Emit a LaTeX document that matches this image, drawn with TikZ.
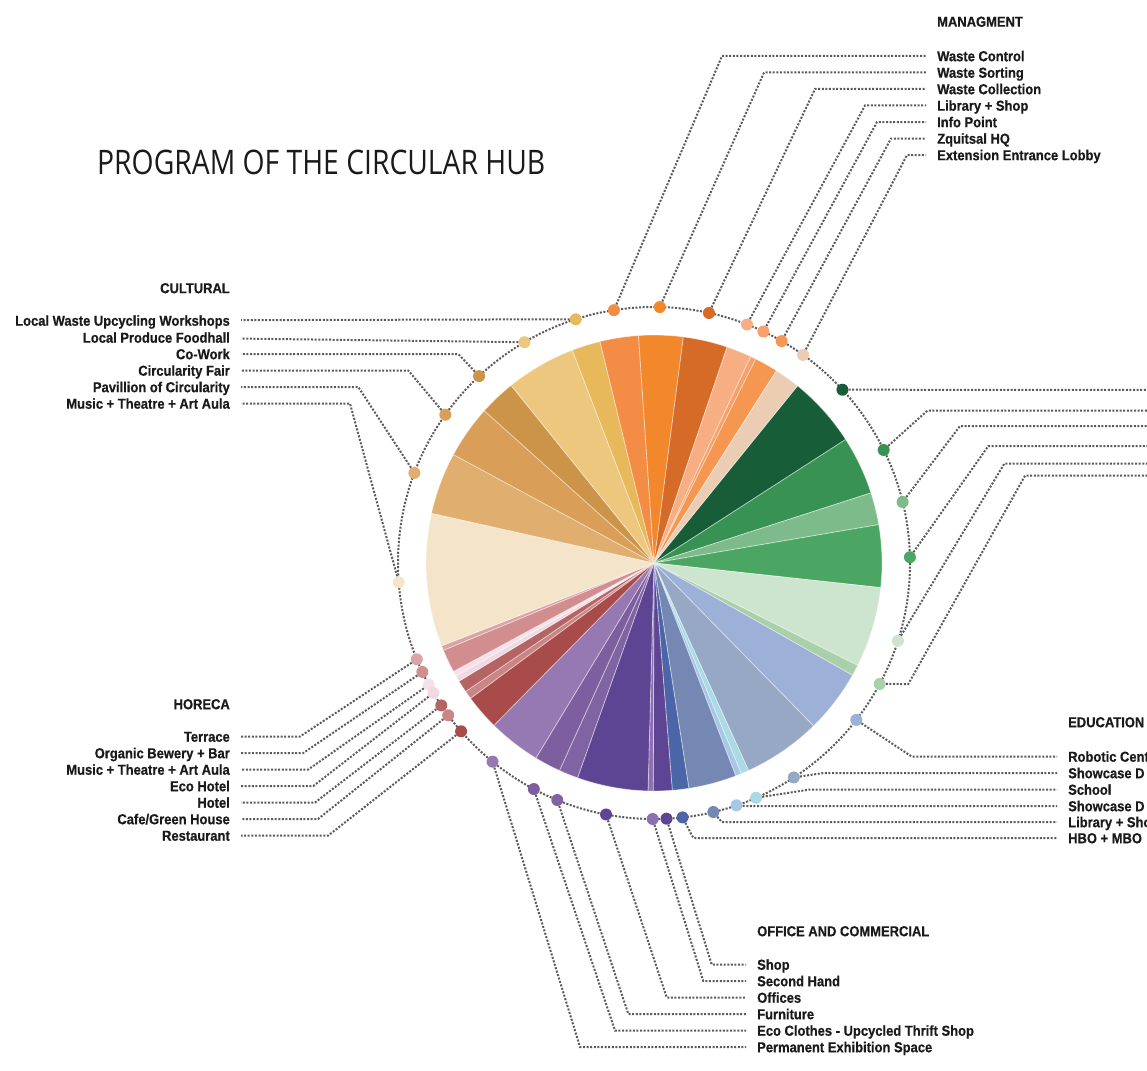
\documentclass[tikz,border=0pt]{standalone}
\usepackage{fontspec}
\usepackage{graphicx}
\setmainfont{Liberation Sans}
\newfontfamily\lblfont{Liberation Sans}[FakeStretch=0.9,FakeBold=0.6]
\newfontfamily\ttlfont{Open Sans}
\usetikzlibrary{calc}

\definecolor{ink}{HTML}{1A1A1A}
\definecolor{dotgray}{HTML}{5A5A5A}
% cultural
\definecolor{cream}{HTML}{F4E5CA}
\definecolor{lttan}{HTML}{E0AE6E}
\definecolor{tan}{HTML}{D99E57}
\definecolor{dktan}{HTML}{CC9449}
\definecolor{ltyellow}{HTML}{EEC77E}
\definecolor{yellow}{HTML}{E8B95A}
% managment
\definecolor{orangeA}{HTML}{F38D45}
\definecolor{orangeB}{HTML}{F3872C}
\definecolor{dkorange}{HTML}{D66A27}
\definecolor{salmon}{HTML}{F8AE83}
\definecolor{salmonB}{HTML}{F7A06C}
\definecolor{orangeC}{HTML}{F59651}
\definecolor{beige}{HTML}{EBCDB4}
% green
\definecolor{dkgreen}{HTML}{175E38}
\definecolor{green}{HTML}{389253}
\definecolor{ltgreen}{HTML}{7DBB8A}
\definecolor{mdgreen}{HTML}{4BA664}
\definecolor{vlgreen}{HTML}{CDE4CE}
\definecolor{thgreen}{HTML}{A9D0A9}
% education
\definecolor{blue}{HTML}{9DB0D8}
\definecolor{greyblue}{HTML}{97A8C4}
\definecolor{ltcyan}{HTML}{A9DAE6}
\definecolor{ltblue}{HTML}{A7C8E5}
\definecolor{slate}{HTML}{7588B4}
\definecolor{dkblue}{HTML}{4A66A6}
% office
\definecolor{purpleA}{HTML}{5E4594}
\definecolor{purpleT}{HTML}{8B6FB0}
\definecolor{purpleB}{HTML}{8063A2}
\definecolor{purpleC}{HTML}{7D5E9F}
\definecolor{lavender}{HTML}{9679B2}
% horeca
\definecolor{red}{HTML}{A84B4A}
\definecolor{cafe}{HTML}{CC8585}
\definecolor{hotel}{HTML}{B56464}
\definecolor{ecopink}{HTML}{F0D9E4}
\definecolor{musicpink}{HTML}{F4E1EA}
\definecolor{pink}{HTML}{D28E8E}
\definecolor{terrace}{HTML}{DCA3A3}

\newcommand{\pieslice}[3]{\filldraw[sl,fill=#3] (0,0) -- (#1:228) arc[start angle=#1,end angle=#2,radius=228] -- cycle;}

\begin{document}
\begin{tikzpicture}[x=1pt,y=-1pt,
    lead/.style={draw=dotgray,line width=2pt,dash pattern=on 2pt off 1.6pt},
    leadt/.style={lead,shorten >=11pt},
    dot/.style={circle,inner sep=0pt,minimum size=12pt},
    lbl/.style={font=\lblfont\bfseries\fontsize{14.4}{16}\selectfont,text=ink,
      inner sep=0pt,text height=10.4pt,text depth=0pt},
    sl/.style={draw=white,draw opacity=.45,line width=.8pt}]
  \useasboundingbox (0,0) rectangle (1147,1070);

  \node[anchor=base west,inner sep=0pt,text=ink] (title) at (97,174.5)
    {\resizebox{448pt}{24.5pt}{\ttlfont PROGRAM OF THE CIRCULAR HUB}};

  \draw[lead] (654,563) circle[radius=256];

  \begin{scope}[shift={(654,563)}]
    % green
    \pieslice{-51}{-32.8}{dkgreen}
    \pieslice{-32.8}{-17.9}{green}
    \pieslice{-17.9}{-9.7}{ltgreen}
    \pieslice{-9.7}{6.2}{mdgreen}
    \pieslice{6.2}{26.7}{vlgreen}
    \pieslice{26.7}{29.5}{thgreen}
    % education
    \pieslice{29.5}{45.6}{blue}
    \pieslice{45.6}{65.5}{greyblue}
    \pieslice{65.5}{67.5}{ltcyan}
    \pieslice{67.5}{69}{ltblue}
    \pieslice{69}{81.2}{slate}
    \pieslice{81.2}{85.4}{dkblue}
    % office and commercial
    \pieslice{85.4}{90.2}{purpleA}
    \pieslice{90.2}{91.5}{purpleT}
    \pieslice{91.5}{109.6}{purpleA}
    \pieslice{109.6}{114.5}{purpleB}
    \pieslice{114.5}{121.2}{purpleC}
    \pieslice{121.2}{134.6}{lavender}
    % horeca
    \pieslice{134.6}{143.6}{red}
    \pieslice{143.6}{145.7}{cafe}
    \pieslice{145.7}{148.8}{hotel}
    \pieslice{148.8}{150.3}{ecopink}
    \pieslice{150.3}{151.6}{musicpink}
    \pieslice{151.6}{157.5}{pink}
    \pieslice{157.5}{158.7}{terrace}
    % cultural
    \pieslice{158.7}{192.6}{cream}
    \pieslice{192.6}{208.4}{lttan}
    \pieslice{208.4}{221.9}{tan}
    \pieslice{221.9}{231.2}{dktan}
    \pieslice{231.2}{249}{ltyellow}
    \pieslice{249}{256.3}{yellow}
    % managment
    \pieslice{256.3}{266.1}{orangeA}
    \pieslice{266.1}{277.4}{orangeB}
    \pieslice{277.4}{288.7}{dkorange}
    \pieslice{288.7}{295.1}{salmon}
    \pieslice{295.1}{296.5}{salmonB}
    \pieslice{296.5}{302.5}{orangeC}
    \pieslice{302.5}{309}{beige}

    \node[dot,fill=orangeA] (m1) at (-99:256) {};
    \node[dot,fill=orangeB] (m2) at (-88.7:256) {};
    \node[dot,fill=dkorange] (m3) at (-77.6:256) {};
    \node[dot,fill=salmon] (m4) at (-68.7:256) {};
    \node[dot,fill=salmonB] (m5) at (-64.7:256) {};
    \node[dot,fill=orangeC] (m6) at (-60.1:256) {};
    \node[dot,fill=beige] (m7) at (-54.4:256) {};

    \node[dot,fill=dkgreen] (g1) at (-42.6:256) {};
    \node[dot,fill=green] (g2) at (-26.2:256) {};
    \node[dot,fill=ltgreen] (g3) at (-13.8:256) {};
    \node[dot,fill=mdgreen] (g4) at (-1.3:256) {};
    \node[dot,fill=vlgreen] (g5) at (17.7:256) {};
    \node[dot,fill=thgreen] (g6) at (28.2:256) {};

    \node[dot,fill=blue] (e1) at (37.8:256) {};
    \node[dot,fill=greyblue] (e2) at (56.9:256) {};
    \node[dot,fill=ltcyan] (e3) at (66.5:256) {};
    \node[dot,fill=ltblue] (e4) at (71.2:256) {};
    \node[dot,fill=slate] (e5) at (76.6:256) {};
    \node[dot,fill=dkblue] (e6) at (83.6:256) {};

    \node[dot,fill=purpleA] (o1) at (87.2:256) {};
    \node[dot,fill=purpleT] (o2) at (90.3:256) {};
    \node[dot,fill=purpleA] (o3) at (100.8:256) {};
    \node[dot,fill=purpleB] (o4) at (112.2:256) {};
    \node[dot,fill=purpleC] (o5) at (118:256) {};
    \node[dot,fill=lavender] (o6) at (129.1:256) {};

    \node[dot,fill=terrace] (h1) at (157.9:256) {};
    \node[dot,fill=pink] (h2) at (154.8:256) {};
    \node[dot,fill=musicpink] (h3) at (151.6:256) {};
    \node[dot,fill=ecopink] (h4) at (149.5:256) {};
    \node[dot,fill=hotel] (h5) at (146.2:256) {};
    \node[dot,fill=cafe] (h6) at (143.5:256) {};
    \node[dot,fill=red] (h7) at (138.9:256) {};

    \node[dot,fill=yellow] (c1) at (-107.8:256) {};
    \node[dot,fill=ltyellow] (c2) at (-120.4:256) {};
    \node[dot,fill=dktan] (c3) at (-133.1:256) {};
    \node[dot,fill=tan] (c4) at (-144.6:256) {};
    \node[dot,fill=lttan] (c5) at (-159.4:256) {};
    \node[dot,fill=cream] (c6) at (175.7:256) {};
  \end{scope}

  % managment
  \node[lbl,anchor=west] (hm) at (937,21.5) {MANAGMENT};
  \node[lbl,anchor=west] (m1t) at (937,56) {Waste Control};
  \node[lbl,anchor=west] (m2t) at (937,72.5) {Waste Sorting};
  \node[lbl,anchor=west] (m3t) at (937,89) {Waste Collection};
  \node[lbl,anchor=west] (m4t) at (937,105.5) {Library + Shop};
  \node[lbl,anchor=west] (m5t) at (937,122) {Info Point};
  \node[lbl,anchor=west] (m6t) at (937,138.5) {Zquitsal HQ};
  \node[lbl,anchor=west] (m7t) at (937,155) {Extension Entrance Lobby};
  \draw[leadt] (m1) -- (722,56) -- (m1t);
  \draw[leadt] (m2) -- (764,72.5) -- (m2t);
  \draw[leadt] (m3) -- (815,89) -- (m3t);
  \draw[leadt] (m4) -- (865,105.5) -- (m4t);
  \draw[leadt] (m5) -- (877,122) -- (m5t);
  \draw[leadt] (m6) -- (891,138.5) -- (m6t);
  \draw[leadt] (m7) -- (907,155) -- (m7t);

  % green, labels off the page
  \coordinate (g1e) at (1147,389.8);
  \coordinate (g2e) at (1147,410.7);
  \coordinate (g3e) at (1147,426);
  \coordinate (g4e) at (1147,446);
  \coordinate (g5e) at (1147,463.7);
  \coordinate (g6e) at (1147,475.7);
  \draw[lead] (g1) -- (g1e);
  \draw[lead] (g2) -- (927.3,410.7) -- (g2e);
  \draw[lead] (g3) -- (960,426) -- (g3e);
  \draw[lead] (g4) -- (988.3,446) -- (g4e);
  \draw[lead] (g5) -- (1004.3,463.7) -- (g5e);
  \draw[lead] (g6) -- (908.3,684) -- (1025,475.7) -- (g6e);

  % education
  \node[lbl,anchor=west] (he) at (1068,722) {EDUCATION};
  \node[lbl,anchor=west] (e1t) at (1068,756.5) {Robotic Cent};
  \node[lbl,anchor=west] (e2t) at (1068,773) {Showcase D};
  \node[lbl,anchor=west] (e3t) at (1068,789.5) {School};
  \node[lbl,anchor=west] (e4t) at (1068,806) {Showcase D};
  \node[lbl,anchor=west] (e5t) at (1068,822) {Library + Sho};
  \node[lbl,anchor=west] (e6t) at (1068,838) {HBO + MBO};
  \draw[leadt] (e1) -- (911.7,756.5) -- (e1t);
  \draw[leadt] (e2) -- (823.3,773) -- (e2t);
  \draw[leadt] (e3) -- (810,789.5) -- (e3t);
  \draw[leadt] (e4) -- (745,806) -- (e4t);
  \draw[leadt] (e5) -- (721.7,822) -- (e5t);
  \draw[leadt] (e6) -- (693.3,838) -- (e6t);

  % office and commercial
  \node[lbl,anchor=west] (ho) at (757,931) {OFFICE AND COMMERCIAL};
  \node[lbl,anchor=west] (o1t) at (757,964.5) {Shop};
  \node[lbl,anchor=west] (o2t) at (757,981) {Second Hand};
  \node[lbl,anchor=west] (o3t) at (757,997.5) {Offices};
  \node[lbl,anchor=west] (o4t) at (757,1014) {Furniture};
  \node[lbl,anchor=west] (o5t) at (757,1030.5) {Eco Clothes - Upcycled Thrift Shop};
  \node[lbl,anchor=west] (o6t) at (757,1047) {Permanent Exhibition Space};
  \draw[leadt] (o1) -- (711.7,964.5) -- (o1t);
  \draw[leadt] (o2) -- (703.3,981) -- (o2t);
  \draw[leadt] (o3) -- (666.7,997.5) -- (o3t);
  \draw[leadt] (o4) -- (628.3,1014) -- (o4t);
  \draw[leadt] (o5) -- (615,1030.5) -- (o5t);
  \draw[leadt] (o6) -- (580,1047) -- (o6t);

  % horeca
  \node[lbl,anchor=east] (hh) at (230,704) {HORECA};
  \node[lbl,anchor=east] (h1t) at (230,736.5) {Terrace};
  \node[lbl,anchor=east] (h2t) at (230,753) {Organic Bewery + Bar};
  \node[lbl,anchor=east] (h3t) at (230,769.5) {Music + Theatre + Art Aula};
  \node[lbl,anchor=east] (h4t) at (230,786) {Eco Hotel};
  \node[lbl,anchor=east] (h5t) at (230,802.5) {Hotel};
  \node[lbl,anchor=east] (h6t) at (230,819) {Cafe/Green House};
  \node[lbl,anchor=east] (h7t) at (230,835.5) {Restaurant};
  \draw[leadt] (h1) -- (300,736.5) -- (h1t);
  \draw[leadt] (h2) -- (303.3,753) -- (h2t);
  \draw[leadt] (h3) -- (308.3,769.5) -- (h3t);
  \draw[leadt] (h4) -- (313.3,786) -- (h4t);
  \draw[leadt] (h5) -- (315,802.5) -- (h5t);
  \draw[leadt] (h6) -- (318,819) -- (h6t);
  \draw[leadt] (h7) -- (328.3,835.5) -- (h7t);

  % cultural
  \node[lbl,anchor=east] (hc) at (230,288) {CULTURAL};
  \node[lbl,anchor=east] (c1t) at (230,320.5) {Local Waste Upcycling Workshops};
  \node[lbl,anchor=east] (c2t) at (230,337.5) {Local Produce Foodhall};
  \node[lbl,anchor=east] (c3t) at (230,354) {Co-Work};
  \node[lbl,anchor=east] (c4t) at (230,370.5) {Circularity Fair};
  \node[lbl,anchor=east] (c5t) at (230,387) {Pavillion of Circularity};
  \node[lbl,anchor=east] (c6t) at (230,403.5) {Music + Theatre + Art Aula};
  \draw[leadt] (c1) -- (c1t);
  \draw[leadt] (c2) -- (c2t);
  \draw[leadt] (c3) -- (458.3,354) -- (c3t);
  \draw[leadt] (c4) -- (408.3,370.5) -- (c4t);
  \draw[leadt] (c5) -- (358.3,387) -- (c5t);
  \draw[leadt] (c6) -- (350,403.5) -- (c6t);
\end{tikzpicture}
\end{document}
